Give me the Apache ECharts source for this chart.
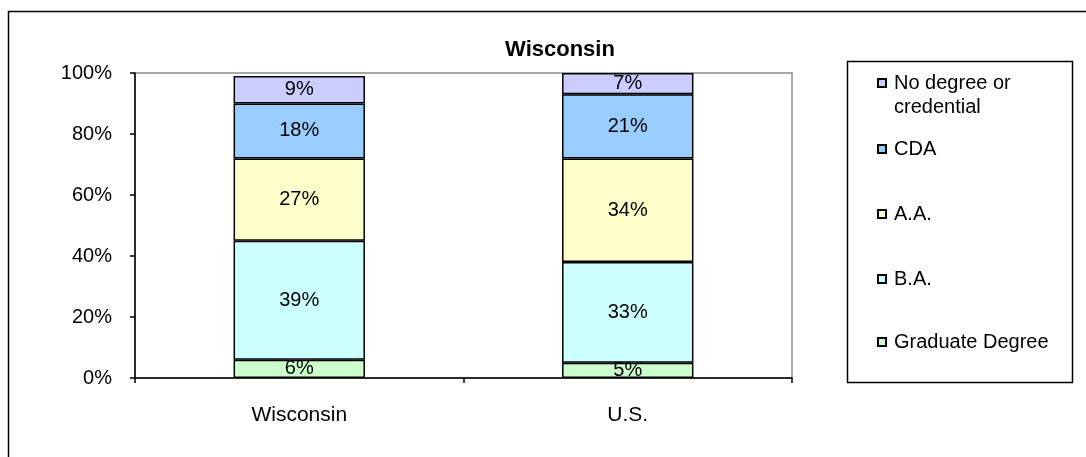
<!DOCTYPE html>
<html>
<head>
<meta charset="utf-8">
<script src="https://cdn.jsdelivr.net/npm/echarts@6/dist/echarts.min.js"></script>
<style>
  html, body { margin: 0; padding: 0; background: #fff; }
  #chart { width: 1086px; height: 457px; }
</style>
</head>
<body>
<div id="chart"></div>
<script>
// categories
var categories = ['Wisconsin', 'U.S.'];
// series values (%), bottom of stack first
var gradDegree = [6, 5];
var baDegree = [39, 33];
var aaDegree = [27, 34];
var cdaCred = [18, 21];
var noDegree = [9, 7];
// tick labels
var yTicks = [0, 20, 40, 60, 80, 100];

var seriesNames = ['Graduate Degree', 'B.A.', 'A.A.', 'CDA', 'No degree or\ncredential'];
var seriesData = [gradDegree, baDegree, aaDegree, cdaCred, noDegree];
var colors = ['#CCFFCC', '#CCFFFF', '#FFFFCC', '#99CCFF', '#CCCCFF'];
var font = 'Arial, "Liberation Sans", sans-serif';

var chart = echarts.init(document.getElementById('chart'));

var series = []
for (var i = 0; i < seriesNames.length; i++) {
  series.push({
    name: seriesNames[i],
    type: 'bar',
    stack: 'all',
    barWidth: '40%',
    data: seriesData[i],
    itemStyle: {
      color: colors[i],
      borderColor: '#000',
      borderWidth: 1.5
    },
    label: {
      show: true,
      position: 'inside',
      formatter: '{c}%',
      color: '#000',
      fontFamily: font,
      fontSize: 20
    }
  })
}

// legend entries, top to bottom, each placed by its own legend box
var legendCenters = [83, 149, 214, 279, 342];
var legends = []
for (var j = 0; j < seriesNames.length; j++) {
  var idx = seriesNames.length - 1 - j;
  var twoLine = j === 0;
  legends.push({
    data: [seriesNames[idx]],
    left: 877,
    // the two-line entry gets an empty first line so the marker sits on "No degree or"
    top: twoLine ? legendCenters[j] - 36 : legendCenters[j] - 11,
    padding: 0,
    icon: 'rect',
    itemWidth: 8,
    itemHeight: 8,
    selectedMode: false,
    formatter: twoLine ? '\n{name}' : '{name}',
    textStyle: {
      fontFamily: font,
      fontSize: 20,
      color: '#000',
      lineHeight: twoLine ? 24 : 22,
      padding: [0, 0, 0, 3]
    }
  })
}

var option = {
  animation: false,
  backgroundColor: '#fff',
  title: {
    text: 'Wisconsin',
    left: 560,
    top: 39,
    textAlign: 'center',
    padding: 0,
    textStyle: {
      fontFamily: font,
      fontSize: 22,
      fontWeight: 'bold',
      color: '#000'
    }
  },
  legend: legends,
  grid: {
    left: 135,
    right: 294,
    top: 73,
    bottom: 79,
    show: true,
    borderColor: '#8c8c8c',
    borderWidth: 1.5
  },
  xAxis: {
    type: 'category',
    data: categories,
    axisLine: { lineStyle: { color: '#000', width: 1.5 } },
    axisTick: { show: true, length: 5, lineStyle: { color: '#000', width: 1.5 } },
    axisLabel: {
      margin: 27,
      color: '#000',
      fontFamily: font,
      fontSize: 21
    }
  },
  yAxis: {
    type: 'value',
    min: yTicks[0],
    max: yTicks[yTicks.length - 1],
    interval: 20,
    splitLine: { show: false },
    axisLine: { show: true, lineStyle: { color: '#000', width: 1.5 } },
    axisTick: { show: true, length: 5, lineStyle: { color: '#000', width: 1.5 } },
    axisLabel: {
      margin: 23,
      color: '#000',
      fontFamily: font,
      fontSize: 20,
      formatter: '{value}%'
    }
  },
  graphic: [
    // outer chart border
    {
      type: 'rect',
      shape: { x: 8.5, y: 11.5, width: 1200, height: 600 },
      style: { fill: null, stroke: '#000', lineWidth: 1.5 },
      silent: true
    },
    // legend frame
    {
      type: 'rect',
      shape: { x: 847.5, y: 61.5, width: 225, height: 321 },
      style: { fill: null, stroke: '#000', lineWidth: 1.5 },
      silent: true
    }
  ],
  series: series
};

chart.setOption(option);
</script>
</body>
</html>
